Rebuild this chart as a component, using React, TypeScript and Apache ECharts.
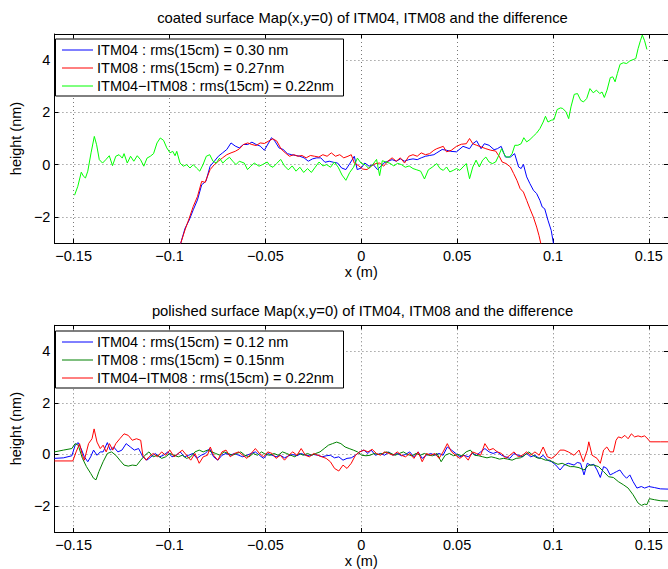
import React, { useEffect, useRef } from "react";
import * as echarts from "echarts";

// ---------- tick values ----------
const X_TICKS = [-0.15, -0.1, -0.05, 0, 0.05, 0.1, 0.15];
const Y_TICKS = [-2, 0, 2, 4];

// ---------- titles / legends ----------
const TITLES = [
  "coated surface Map(x,y=0) of ITM04, ITM08 and the difference",
  "polished surface Map(x,y=0) of ITM04, ITM08 and the difference",
];
const TOP_NAMES = [
  "ITM04 : rms(15cm) = 0.30 nm",
  "ITM08 : rms(15cm) = 0.27nm",
  "ITM04−ITM08 : rms(15cm) = 0.22nm",
];
const BOT_NAMES = [
  "ITM04 : rms(15cm) = 0.12 nm",
  "ITM08 : rms(15cm) = 0.15nm",
  "ITM04−ITM08 : rms(15cm) = 0.22nm",
];
const TOP_COLORS = ["#0000ff", "#ff0000", "#00ff00"];
const BOT_COLORS = ["#0000ff", "#008000", "#ff0000"];

// ---------- coated (top) data ----------
const COATED_ITM04_X = [-0.096, -0.0941, -0.0919, -0.0897, -0.0876, -0.0854, -0.0832, -0.081, -0.0788, -0.0766, -0.0745, -0.0723, -0.0701, -0.0679, -0.0657, -0.0636, -0.0614, -0.0592, -0.057, -0.0548, -0.0527, -0.0505, -0.0483, -0.0468, -0.045, -0.0429, -0.0407, -0.0385, -0.0363, -0.0341, -0.032, -0.0298, -0.0276, -0.0254, -0.0232, -0.0211, -0.0189, -0.0167, -0.0145, -0.0123, -0.0102, -0.008, -0.0058, -0.0036, -0.0021, 0.0, 0.0019, 0.0041, 0.0063, 0.0085, 0.0102, 0.0117, 0.0139, 0.0161, 0.0183, 0.0204, 0.0226, 0.0248, 0.027, 0.0292, 0.0313, 0.0335, 0.0357, 0.0379, 0.0394, 0.0422, 0.0445, 0.0466, 0.0497, 0.0531, 0.0565, 0.0582, 0.0602, 0.0625, 0.0642, 0.0667, 0.0693, 0.071, 0.073, 0.0752, 0.0778, 0.08, 0.0821, 0.0834, 0.0846, 0.0863, 0.088, 0.0898, 0.0915, 0.0932, 0.0944, 0.0957, 0.0974, 0.0991, 0.1003, 0.102];
const COATED_ITM04_Y = [-3.3, -3.0, -2.44, -2.12, -1.73, -1.35, -0.77, -0.64, -0.06, 0.13, 0.32, 0.45, 0.58, 0.83, 0.71, 0.64, 0.77, 0.77, 0.86, 0.77, 0.71, 0.55, 0.83, 1.03, 0.9, 0.64, 0.58, 0.42, 0.38, 0.35, 0.32, 0.26, 0.13, 0.22, 0.26, 0.26, 0.09, 0.13, 0.09, 0.06, -0.13, -0.19, 0.06, 0.32, -0.19, -0.13, 0.06, -0.06, 0.0, -0.19, -0.06, 0.06, 0.13, 0.19, 0.13, 0.22, 0.13, 0.19, 0.22, 0.19, 0.26, 0.32, 0.35, 0.38, 0.45, 0.58, 0.55, 0.51, 0.49, 0.7, 0.61, 0.8, 0.91, 0.61, 0.8, 0.74, 0.57, 0.61, 0.7, 0.29, 0.29, 0.42, -0.09, -0.15, 0.01, -0.47, -0.73, -0.98, -1.11, -1.37, -1.62, -1.69, -2.13, -2.52, -3.03, -3.4];

const COATED_ITM08_X = [-0.096, -0.0941, -0.0919, -0.0897, -0.0876, -0.0854, -0.0832, -0.0814, -0.0788, -0.0766, -0.0745, -0.0723, -0.0701, -0.0679, -0.0657, -0.0636, -0.0614, -0.0592, -0.057, -0.0548, -0.0527, -0.0505, -0.0483, -0.0461, -0.044, -0.0418, -0.0396, -0.0374, -0.0352, -0.033, -0.0309, -0.0287, -0.0265, -0.0243, -0.0221, -0.02, -0.0178, -0.0156, -0.0134, -0.0112, -0.0091, -0.0069, -0.0052, -0.0036, -0.0014, 0.0008, 0.003, 0.0052, 0.0074, 0.0096, 0.0117, 0.0139, 0.0161, 0.0183, 0.0204, 0.0226, 0.0248, 0.027, 0.0292, 0.0313, 0.0335, 0.0357, 0.0379, 0.0394, 0.0428, 0.0445, 0.047, 0.0497, 0.0522, 0.0548, 0.0565, 0.0582, 0.0602, 0.0625, 0.065, 0.0676, 0.0701, 0.0722, 0.0735, 0.0756, 0.0778, 0.0795, 0.0812, 0.0829, 0.0846, 0.0863, 0.088, 0.0898, 0.0915, 0.0927, 0.0937, 0.095];
const COATED_ITM08_Y = [-3.3, -3.0, -2.5, -2.05, -1.6, -1.22, -0.64, -0.68, -0.19, 0.0, 0.13, 0.26, 0.38, 0.45, 0.51, 0.6, 0.77, 0.83, 0.77, 0.73, 0.83, 0.81, 0.9, 0.99, 0.9, 0.6, 0.45, 0.32, 0.38, 0.32, 0.35, 0.26, 0.35, 0.32, 0.29, 0.38, 0.32, 0.45, 0.32, 0.38, 0.26, 0.32, 0.38, 0.06, -0.04, -0.17, -0.19, -0.06, 0.04, 0.06, -0.06, 0.13, 0.26, 0.13, 0.26, 0.06, 0.32, 0.38, 0.32, 0.45, 0.38, 0.42, 0.55, 0.61, 0.7, 0.49, 0.55, 0.7, 0.78, 0.8, 1.0, 0.8, 0.74, 0.68, 0.61, 0.55, 0.52, 0.29, 0.1, 0.04, -0.09, -0.34, -0.6, -0.92, -1.05, -1.37, -1.69, -2.01, -2.39, -2.71, -3.03, -3.4];

const COATED_DIFF_X = [-0.1495, -0.1478, -0.146, -0.1448, -0.1438, -0.1426, -0.1409, -0.1392, -0.138, -0.1366, -0.1349, -0.1332, -0.1314, -0.1297, -0.128, -0.1263, -0.1246, -0.1237, -0.122, -0.1203, -0.1186, -0.1168, -0.1151, -0.1134, -0.1117, -0.11, -0.1083, -0.1065, -0.1048, -0.1031, -0.1014, -0.0997, -0.0983, -0.0971, -0.0962, -0.0945, -0.0928, -0.091, -0.0893, -0.0876, -0.0859, -0.0842, -0.0825, -0.0808, -0.079, -0.0773, -0.0756, -0.0739, -0.0722, -0.0704, -0.0687, -0.067, -0.0653, -0.0636, -0.061, -0.0593, -0.0576, -0.0558, -0.0533, -0.0515, -0.049, -0.0475, -0.046, -0.044, -0.042, -0.04, -0.038, -0.036, -0.034, -0.032, -0.03, -0.028, -0.026, -0.024, -0.022, -0.02, -0.018, -0.016, -0.014, -0.012, -0.01, -0.008, -0.006, -0.004, -0.002, 0.0, 0.002, 0.004, 0.006, 0.008, 0.0096, 0.011, 0.013, 0.015, 0.017, 0.019, 0.021, 0.023, 0.025, 0.027, 0.029, 0.031, 0.033, 0.035, 0.037, 0.0394, 0.0411, 0.0428, 0.0445, 0.0462, 0.048, 0.0497, 0.0514, 0.0531, 0.0548, 0.0565, 0.0582, 0.0599, 0.0616, 0.0633, 0.065, 0.0667, 0.0684, 0.0701, 0.0718, 0.0732, 0.0744, 0.0756, 0.0773, 0.0787, 0.0801, 0.0817, 0.0834, 0.0848, 0.0863, 0.088, 0.0898, 0.0915, 0.0932, 0.0949, 0.0961, 0.0974, 0.0991, 0.1005, 0.1022, 0.1039, 0.1051, 0.1068, 0.1082, 0.1094, 0.1111, 0.1128, 0.1145, 0.1159, 0.1176, 0.1193, 0.121, 0.1227, 0.1244, 0.1256, 0.1268, 0.1282, 0.1299, 0.1312, 0.1324, 0.1336, 0.135, 0.1367, 0.1384, 0.1401, 0.1418, 0.1432, 0.1444, 0.1456, 0.1466, 0.1478, 0.149];
const COATED_DIFF_Y = [-1.17, -0.83, -0.29, -0.45, -0.51, -0.25, 0.45, 1.08, 0.76, 0.19, 0.06, 0.19, 0.34, -0.04, 0.32, 0.38, 0.25, 0.42, 0.06, 0.32, 0.13, 0.34, 0.19, -0.06, 0.25, 0.32, 0.42, 0.83, 1.02, 0.93, 0.64, 0.45, 0.51, 0.34, 0.51, 0.06, -0.06, 0.0, -0.13, 0.0, -0.13, -0.25, 0.0, 0.32, 0.38, 0.13, 0.06, 0.25, 0.06, 0.19, 0.28, 0.13, 0.0, 0.13, 0.06, -0.19, -0.06, 0.06, -0.06, 0.0, 0.1, -0.05, -0.1, 0.05, 0.2, -0.05, -0.2, -0.05, -0.25, -0.1, -0.3, -0.15, -0.3, -0.1, 0.1, -0.05, 0.0, -0.1, 0.1, -0.1, -0.4, -0.6, -0.3, -0.1, 0.25, 0.05, 0.0, -0.15, 0.0, 0.2, -0.42, 0.15, 0.1, 0.05, -0.05, 0.05, 0.0, -0.1, -0.05, -0.15, -0.2, -0.25, -0.55, -0.2, -0.1, 0.04, -0.15, -0.22, -0.09, -0.28, -0.22, -0.15, -0.22, -0.09, 0.04, -0.54, -0.09, 0.17, -0.09, 0.17, 0.29, 0.1, 0.04, 0.1, 0.36, 0.61, 0.42, 0.29, 0.29, 0.42, 0.74, 0.74, 0.8, 1.03, 0.87, 0.96, 1.09, 1.21, 1.38, 1.63, 1.85, 1.63, 1.7, 1.72, 2.11, 2.17, 2.15, 2.02, 1.76, 2.21, 2.69, 2.72, 2.46, 2.4, 2.53, 2.91, 2.75, 2.85, 2.72, 2.78, 2.57, 2.85, 3.33, 3.36, 3.17, 3.49, 3.84, 3.9, 3.87, 3.97, 4.02, 4.06, 4.44, 4.74, 4.96, 4.74, 4.41];

// ---------- polished (bottom) data ----------
const POL_ITM04_X = [-0.16, -0.1553, -0.1509, -0.1492, -0.1476, -0.1461, -0.1444, -0.1426, -0.1411, -0.1396, -0.1378, -0.1361, -0.1346, -0.1324, -0.1309, -0.1291, -0.1269, -0.1248, -0.1226, -0.1204, -0.1183, -0.1161, -0.1139, -0.1118, -0.1096, -0.1074, -0.1052, -0.1031, -0.1009, -0.0987, -0.0965, -0.0944, -0.0922, -0.09, -0.0878, -0.0857, -0.0835, -0.0813, -0.0791, -0.077, -0.0748, -0.0726, -0.0705, -0.0683, -0.0661, -0.0639, -0.0618, -0.0596, -0.0574, -0.0552, -0.0531, -0.0509, -0.0487, -0.0465, -0.0444, -0.0422, -0.04, -0.0378, -0.0357, -0.0335, -0.0313, -0.0291, -0.027, -0.0248, -0.0226, -0.0204, -0.0183, -0.0161, -0.0139, -0.0117, -0.0095, -0.0074, -0.0052, -0.003, -0.0008, 0.0014, 0.0035, 0.0052, 0.0074, 0.0101, 0.0122, 0.0144, 0.0166, 0.0188, 0.021, 0.0231, 0.0253, 0.0275, 0.0297, 0.0318, 0.034, 0.0362, 0.0384, 0.0406, 0.0427, 0.0449, 0.0471, 0.0493, 0.0514, 0.0536, 0.0558, 0.058, 0.0601, 0.0623, 0.0645, 0.0667, 0.0688, 0.071, 0.0732, 0.0754, 0.0775, 0.0797, 0.0819, 0.0841, 0.0862, 0.0884, 0.0906, 0.0928, 0.0949, 0.0971, 0.0993, 0.1015, 0.1037, 0.1058, 0.108, 0.111, 0.1127, 0.1144, 0.1162, 0.1179, 0.1196, 0.1213, 0.123, 0.1247, 0.1264, 0.1281, 0.1298, 0.1315, 0.1332, 0.1349, 0.1367, 0.1384, 0.1401, 0.1418, 0.1438, 0.1461, 0.1478, 0.15, 0.1529, 0.156, 0.16];
const POL_ITM04_Y = [-0.15, -0.13, -0.05, 0.36, 0.46, 0.23, -0.09, -0.28, -0.09, 0.17, -0.03, 0.1, 0.1, 0.46, 0.17, 0.29, 0.1, 0.17, 0.42, 0.29, 0.17, 0.23, -0.09, -0.22, -0.09, 0.04, -0.09, -0.03, 0.1, -0.09, -0.03, 0.1, -0.09, -0.03, 0.04, -0.15, -0.03, 0.04, 0.23, -0.09, -0.22, -0.03, 0.04, -0.03, 0.04, -0.03, -0.09, -0.03, 0.04, 0.1, -0.03, -0.15, 0.04, -0.03, -0.09, -0.03, -0.13, -0.05, 0.0, -0.05, 0.04, -0.03, -0.05, 0.0, -0.03, -0.09, -0.05, -0.03, -0.13, -0.09, -0.22, -0.15, -0.13, -0.03, 0.1, 0.17, 0.04, 0.17, -0.03, 0.04, -0.03, 0.1, -0.03, 0.04, -0.05, 0.0, 0.1, -0.09, 0.1, -0.15, -0.03, 0.04, -0.03, 0.04, -0.03, 0.29, 0.17, 0.04, -0.09, -0.03, -0.09, 0.04, -0.03, 0.1, 0.23, 0.1, 0.04, 0.1, -0.03, -0.09, -0.15, 0.04, -0.03, -0.09, 0.04, -0.09, -0.03, -0.15, -0.03, -0.22, -0.28, -0.41, -0.6, -0.41, -0.34, -0.41, -0.31, -0.34, -0.79, -0.34, -0.41, -0.38, -0.6, -0.89, -0.47, -0.54, -0.79, -0.73, -0.66, -0.6, -0.79, -0.92, -0.79, -1.05, -1.3, -1.24, -1.3, -1.24, -1.28, -1.33, -1.34];

const POL_ITM08_X = [-0.16, -0.1553, -0.1509, -0.1492, -0.1476, -0.1454, -0.1433, -0.1411, -0.1396, -0.1383, -0.1368, -0.1346, -0.1324, -0.1302, -0.128, -0.1259, -0.1237, -0.1215, -0.1194, -0.1172, -0.115, -0.1128, -0.1107, -0.1085, -0.1063, -0.1041, -0.102, -0.0998, -0.0976, -0.0954, -0.0933, -0.0911, -0.0889, -0.0867, -0.0845, -0.0824, -0.0802, -0.078, -0.0759, -0.0737, -0.0715, -0.0693, -0.0672, -0.065, -0.0628, -0.0607, -0.0585, -0.0563, -0.0541, -0.052, -0.0498, -0.0476, -0.0454, -0.0433, -0.0411, -0.0389, -0.0367, -0.0346, -0.0324, -0.0302, -0.028, -0.0259, -0.0237, -0.0215, -0.0193, -0.0171, -0.015, -0.0128, -0.0106, -0.0084, -0.0063, -0.0041, -0.0019, 0.0003, 0.0025, 0.0046, 0.0068, 0.009, 0.0112, 0.0133, 0.0155, 0.0177, 0.0199, 0.022, 0.0242, 0.0264, 0.0286, 0.0308, 0.0329, 0.0351, 0.0373, 0.0395, 0.0417, 0.0438, 0.046, 0.0482, 0.0504, 0.0525, 0.0547, 0.0569, 0.0591, 0.0613, 0.0634, 0.0656, 0.0678, 0.07, 0.0721, 0.0743, 0.0765, 0.0787, 0.0808, 0.083, 0.0852, 0.0874, 0.0895, 0.0917, 0.0939, 0.0961, 0.0982, 0.1004, 0.1026, 0.1048, 0.1069, 0.1091, 0.111, 0.1136, 0.1162, 0.1187, 0.1213, 0.1238, 0.1264, 0.129, 0.1315, 0.1341, 0.1367, 0.1392, 0.1418, 0.1444, 0.1461, 0.1478, 0.149, 0.1503, 0.1529, 0.156, 0.16];
const POL_ITM08_Y = [0.1, 0.17, 0.23, 0.42, 0.36, -0.15, -0.47, -0.73, -0.92, -0.98, -0.66, -0.28, 0.04, 0.1, -0.03, -0.22, -0.41, -0.45, -0.41, -0.43, -0.22, -0.03, 0.1, -0.09, -0.03, -0.15, -0.09, 0.04, -0.03, -0.09, -0.03, -0.15, -0.09, 0.1, 0.17, 0.1, 0.17, 0.1, 0.04, -0.03, 0.1, 0.04, -0.03, 0.04, 0.1, -0.03, -0.09, 0.04, -0.03, 0.1, 0.0, -0.03, 0.04, -0.03, 0.1, 0.04, -0.03, -0.09, 0.04, -0.03, 0.04, -0.03, 0.04, 0.1, 0.23, 0.36, 0.42, 0.48, 0.42, 0.29, 0.23, 0.17, 0.1, -0.03, -0.05, -0.03, 0.04, 0.0, 0.04, 0.1, 0.04, -0.03, 0.04, 0.1, 0.0, -0.05, 0.04, -0.03, 0.04, -0.03, -0.05, 0.04, -0.28, -0.03, 0.04, -0.05, 0.0, -0.05, 0.1, 0.17, -0.03, -0.05, -0.09, -0.13, -0.09, -0.13, -0.18, -0.15, -0.18, -0.22, -0.15, -0.13, -0.03, 0.1, -0.03, -0.13, -0.15, -0.22, -0.22, -0.31, -0.38, -0.34, -0.41, -0.47, -0.47, -0.51, -0.6, -0.41, -0.41, -0.47, -0.66, -0.86, -0.89, -1.05, -1.17, -1.3, -1.56, -1.88, -1.97, -1.92, -1.94, -1.71, -1.75, -1.79, -1.8];

const POL_DIFF_X = [-0.16, -0.1504, -0.1487, -0.1469, -0.1454, -0.1444, -0.1422, -0.1404, -0.1393, -0.1378, -0.1361, -0.1346, -0.133, -0.1313, -0.1296, -0.128, -0.1259, -0.1237, -0.1215, -0.1194, -0.1172, -0.115, -0.1139, -0.1122, -0.1107, -0.1085, -0.1063, -0.1041, -0.102, -0.0998, -0.0976, -0.0954, -0.0933, -0.0911, -0.0889, -0.0867, -0.0845, -0.0824, -0.0802, -0.0787, -0.077, -0.0748, -0.0726, -0.0705, -0.0683, -0.0661, -0.0639, -0.0618, -0.0596, -0.0574, -0.0552, -0.0531, -0.0509, -0.0487, -0.0465, -0.0444, -0.0422, -0.04, -0.0378, -0.0357, -0.0335, -0.0313, -0.0291, -0.027, -0.0248, -0.0226, -0.0204, -0.0183, -0.0161, -0.0139, -0.0117, -0.0095, -0.0074, -0.0052, -0.003, -0.0008, 0.0014, 0.0035, 0.0057, 0.0079, 0.0101, 0.0122, 0.0144, 0.0166, 0.0188, 0.021, 0.0231, 0.0253, 0.0275, 0.0297, 0.0318, 0.034, 0.0362, 0.0384, 0.0406, 0.0427, 0.0449, 0.0471, 0.0493, 0.0514, 0.0536, 0.0558, 0.058, 0.0601, 0.0623, 0.0645, 0.0667, 0.0688, 0.071, 0.0732, 0.0754, 0.0775, 0.0797, 0.0819, 0.0841, 0.0862, 0.0884, 0.0906, 0.0928, 0.0949, 0.0971, 0.0993, 0.1015, 0.1037, 0.1058, 0.108, 0.111, 0.1136, 0.1158, 0.1179, 0.1187, 0.1204, 0.123, 0.1247, 0.1264, 0.1281, 0.1298, 0.1315, 0.1329, 0.1341, 0.1358, 0.1375, 0.1392, 0.1409, 0.1426, 0.1444, 0.1461, 0.1478, 0.149, 0.1507, 0.156, 0.16];
const POL_DIFF_Y = [-0.25, -0.25, 0.1, 0.42, -0.03, -0.22, 0.42, 0.61, 0.99, 0.48, 0.23, 0.36, 0.1, 0.42, 0.17, 0.42, 0.61, 0.8, 0.74, 0.55, 0.61, 0.55, -0.03, -0.22, -0.09, 0.04, -0.09, 0.1, -0.03, 0.17, -0.09, 0.04, 0.17, -0.03, -0.22, 0.04, -0.34, -0.09, -0.03, 0.29, -0.03, -0.22, 0.1, 0.17, -0.09, 0.04, 0.1, -0.03, -0.15, 0.04, 0.23, 0.04, -0.09, 0.1, 0.04, -0.15, -0.03, -0.22, -0.03, 0.1, -0.03, 0.23, -0.03, -0.09, 0.04, -0.03, -0.09, -0.15, -0.28, -0.54, -0.64, -0.41, -0.54, -0.34, -0.03, 0.1, 0.17, 0.1, 0.2, 0.04, -0.03, 0.1, 0.04, -0.03, 0.1, -0.03, -0.09, 0.04, -0.15, 0.1, -0.28, 0.04, -0.03, 0.04, -0.15, 0.1, 0.42, 0.1, -0.03, -0.15, -0.03, -0.22, 0.1, 0.04, -0.03, 0.42, 0.17, 0.23, 0.1, 0.04, -0.15, -0.03, 0.1, -0.09, -0.03, 0.1, -0.03, 0.1, -0.03, 0.29, -0.09, -0.15, -0.03, 0.17, 0.17, 0.1, -0.03, 0.17, -0.28, 0.17, 0.49, -0.03, -0.15, -0.34, 0.17, 0.29, 0.1, 0.1, 0.55, 0.68, 0.64, 0.74, 0.61, 0.8, 0.68, 0.72, 0.68, 0.72, 0.64, 0.49, 0.49, 0.49];

const FONT = "'Liberation Sans', Arial, Helvetica, sans-serif";

const zip = (xs: number[], ys: number[]) => xs.map((x, i) => [x, ys[i]]);
const fmt = (v: number) => {
  const s = String(Number(v.toFixed(2)));
  return s.replace("-", "\u2212");
};

const GRID_LEFT = 50.5;
const GRID_W = 624;
const GRID_H = 209;
const GRID_TOPS = [34, 325.3];

function legendGraphic(top: number, names: string[], colors: string[]) {
  const els: any[] = [
    {
      type: "rect",
      z: 100,
      shape: { x: 55.5, y: top + 0.5, width: 288, height: 57 },
      style: { fill: "#fff", stroke: "#000", lineWidth: 1 },
    },
  ];
  names.forEach((n, i) => {
    const y = top + 11.5 + i * 18;
    els.push({
      type: "line",
      z: 101,
      shape: { x1: 62, y1: y, x2: 93, y2: y },
      style: { stroke: colors[i], lineWidth: 1 },
    });
    els.push({
      type: "text",
      z: 101,
      style: {
        text: n,
        x: 97,
        y: y,
        font: `14.5px ${FONT}`,
        fill: "#000",
        textAlign: "left",
        textVerticalAlign: "middle",
        align: "left",
        verticalAlign: "middle",
      },
    });
  });
  return els;
}

export default function App() {
  const ref = useRef<HTMLDivElement>(null);
  useEffect(() => {
    if (!ref.current) return;
    const chart = echarts.init(ref.current, undefined, { renderer: "svg" });

    const xAxes: any[] = [];
    const yAxes: any[] = [];
    GRID_TOPS.forEach((_, gi) => {
      xAxes.push({
        type: "value",
        gridIndex: gi,
        position: "bottom",
        min: -0.16,
        max: 0.16,
        name: "x (m)",
        nameLocation: "middle",
        nameGap: 21,
        nameTextStyle: { fontFamily: FONT, fontSize: 14.5, color: "#000" },
        axisLine: { show: true, onZero: false, lineStyle: { color: "#000", width: 1 } },
        axisTick: { show: true, inside: true, length: 4, customValues: X_TICKS, lineStyle: { color: "#000" } },
        axisLabel: { customValues: X_TICKS, formatter: fmt, color: "#000", fontFamily: FONT, fontSize: 14.5, margin: 5 },
        splitLine: { show: true, lineStyle: { type: [1, 3], color: "#777", width: 1 } },
      });
      xAxes.push({
        type: "value",
        gridIndex: gi,
        position: "top",
        min: -0.16,
        max: 0.16,
        axisLine: { show: true, onZero: false, lineStyle: { color: "#000", width: 1 } },
        axisTick: { show: true, inside: true, length: 4, customValues: X_TICKS, lineStyle: { color: "#000" } },
        axisLabel: { show: false },
        splitLine: { show: false },
      });
      yAxes.push({
        type: "value",
        gridIndex: gi,
        position: "left",
        min: -3,
        max: 5,
        name: "height (nm)",
        nameLocation: "middle",
        nameGap: 24,
        nameTextStyle: { fontFamily: FONT, fontSize: 14.5, color: "#000" },
        axisLine: { show: true, onZero: false, lineStyle: { color: "#000", width: 1 } },
        axisTick: { show: true, inside: true, length: 4, customValues: Y_TICKS, lineStyle: { color: "#000" } },
        axisLabel: { customValues: Y_TICKS, formatter: fmt, color: "#000", fontFamily: FONT, fontSize: 14.5, margin: 4 },
        splitLine: { show: true, lineStyle: { type: [1, 3], color: "#777", width: 1 } },
      });
      yAxes.push({
        type: "value",
        gridIndex: gi,
        position: "right",
        min: -3,
        max: 5,
        axisLine: { show: true, onZero: false, lineStyle: { color: "#000", width: 1 } },
        axisTick: { show: true, inside: true, length: 4, customValues: Y_TICKS, lineStyle: { color: "#000" } },
        axisLabel: { show: false },
        splitLine: { show: false },
      });
    });

    const mk = (name: string, color: string, data: number[][], gi: number, z: number) => ({
      type: "line",
      name,
      xAxisIndex: gi * 2,
      yAxisIndex: gi * 2,
      data,
      showSymbol: false,
      symbol: "none",
      clip: true,
      z,
      lineStyle: { color, width: 1 },
      itemStyle: { color },
    });

    const series = [
      mk(TOP_NAMES[0], TOP_COLORS[0], zip(COATED_ITM04_X, COATED_ITM04_Y), 0, 2),
      mk(TOP_NAMES[1], TOP_COLORS[1], zip(COATED_ITM08_X, COATED_ITM08_Y), 0, 3),
      mk(TOP_NAMES[2], TOP_COLORS[2], zip(COATED_DIFF_X, COATED_DIFF_Y), 0, 4),
      mk(BOT_NAMES[0], BOT_COLORS[0], zip(POL_ITM04_X, POL_ITM04_Y), 1, 2),
      mk(BOT_NAMES[1], BOT_COLORS[1], zip(POL_ITM08_X, POL_ITM08_Y), 1, 3),
      mk(BOT_NAMES[2], BOT_COLORS[2], zip(POL_DIFF_X, POL_DIFF_Y), 1, 4),
    ];

    const titleEls = TITLES.map((t, i) => ({
      type: "text",
      z: 100,
      style: {
        text: t,
        x: GRID_LEFT + GRID_W / 2,
        y: [17.5, 310.5][i],
        font: `14.8px ${FONT}`,
        fill: "#000",
        textAlign: "center",
        textVerticalAlign: "middle",
        align: "center",
        verticalAlign: "middle",
      },
    }));

    chart.setOption({
      animation: false,
      backgroundColor: "#fff",
      grid: GRID_TOPS.map((t) => ({
        left: GRID_LEFT,
        top: t,
        width: GRID_W,
        height: GRID_H,
        containLabel: false,
      })),
      xAxis: xAxes,
      yAxis: yAxes,
      series,
      graphic: [
        ...titleEls,
        ...legendGraphic(38.5, TOP_NAMES, TOP_COLORS),
        ...legendGraphic(330.5, BOT_NAMES, BOT_COLORS),
      ],
    });
    return () => chart.dispose();
  }, []);

  return (
    <div
      ref={ref}
      style={{ position: "absolute", left: 0, top: 0, width: 668, height: 569, background: "#fff" }}
    />
  );
}
